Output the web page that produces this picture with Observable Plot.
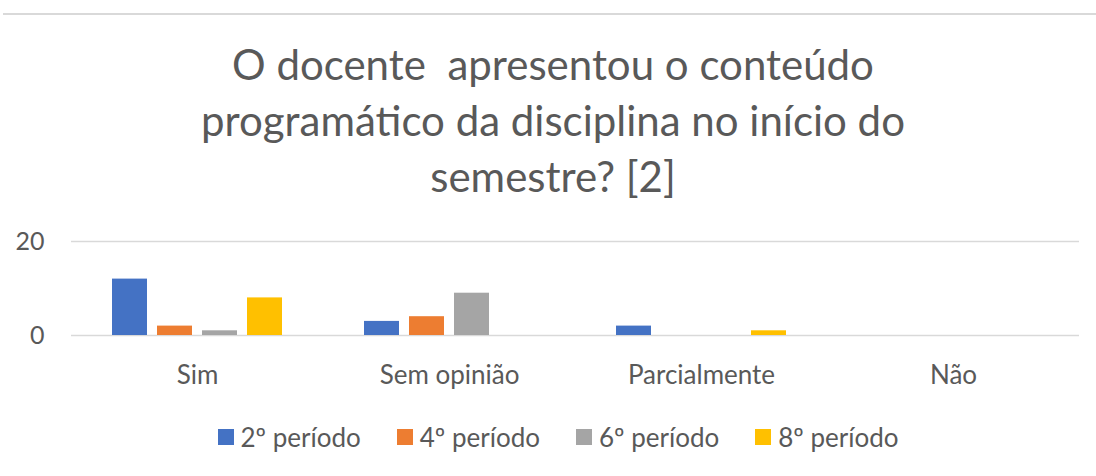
<!DOCTYPE html>
<html>
<head>
<meta charset="utf-8">
<script src="https://cdn.jsdelivr.net/npm/d3@7"></script>
<script src="https://cdn.jsdelivr.net/npm/@observablehq/plot@0.6"></script>
<style>
  html, body { margin: 0; padding: 0; background: #fff; }
  #wrap { position: relative; width: 1096px; height: 476px; overflow: hidden; background: #fff; font-family: Lato, "Open Sans", sans-serif; color: #595959; }
  #topline { position: absolute; top: 13px; left: 3px; right: 0; height: 2px; background: #d9d9d9; }
  #title { position: absolute; top: 36px; left: 0; width: 1106px; text-align: center; font-size: 42px; line-height: 56px; white-space: pre; color: #595959; }
  #chart { position: absolute; top: 200px; left: 0; }
  #legend { position: absolute; top: 420px; left: 0; width: 1116px; display: flex; justify-content: center; align-items: center; height: 34px; font-size: 26px; color: #595959; }
  .item { display: flex; align-items: center; margin: 0 18px; }
  .sw { width: 16px; height: 16px; margin-right: 7px; display: inline-block; }
</style>
</head>
<body>
<div id="wrap">
  <div id="topline"></div>
  <div id="title"></div>
  <div id="chart"></div>
  <div id="legend"></div>
</div>
<script>
const titleLines = ["O docente  apresentou o conteúdo", "programático da disciplina no início do", "semestre? [2]"];
const categories = ["Sim", "Sem opinião", "Parcialmente", "Não"];
const series = ["2º período", "4º período", "6º período", "8º período"];
const values2 = [12, 3, 2, 0];
const values4 = [2, 4, 0, 0];
const values6 = [1, 9, 0, 0];
const values8 = [8, 0, 1, 0];
const yTicks = [0, 20];
const colors = ["#4472C4", "#ED7D31", "#A5A5A5", "#FFC000"];

const seriesValues = [values2, values4, values6, values8];
const data = [];
categories.forEach((c, i) => {
  series.forEach((s, j) => {
    data.push({category: c, series: s, value: seriesValues[j][i]});
  });
});

document.getElementById("title").textContent = titleLines.join("\n");

const chart = Plot.plot({
  width: 1096,
  height: 200,
  marginTop: 41,
  marginBottom: 65,
  marginLeft: 69,
  marginRight: 16,
  style: {fontFamily: "Lato, 'Open Sans', sans-serif", fontSize: "25px", color: "#595959", background: "transparent"},
  fx: {domain: categories, padding: 0, label: null},
  x: {domain: series, paddingInner: 0.22, paddingOuter: 0.86, axis: null},
  y: {domain: [0, 20], label: null},
  color: {domain: series, range: colors},
  marks: [
    Plot.ruleY(yTicks, {stroke: "#d9d9d9", strokeWidth: 1.5}),
    Plot.barY(data, {fx: "category", x: "series", y: "value", fill: "series"}),
    Plot.axisY(yTicks, {tickSize: 0, tickPadding: 27, label: null, fill: "#595959"}),
    Plot.axisFx({anchor: "bottom", tickSize: 0, tickPadding: 30, label: null, fill: "#595959", fontSize: 26})
  ]
});
document.getElementById("chart").appendChild(chart);

const legend = document.getElementById("legend");
series.forEach((s, i) => {
  const item = document.createElement("span");
  item.className = "item";
  const sw = document.createElement("span");
  sw.className = "sw";
  sw.style.background = colors[i];
  const t = document.createElement("span");
  t.textContent = s;
  item.appendChild(sw);
  item.appendChild(t);
  legend.appendChild(item);
});
</script>
</body>
</html>
